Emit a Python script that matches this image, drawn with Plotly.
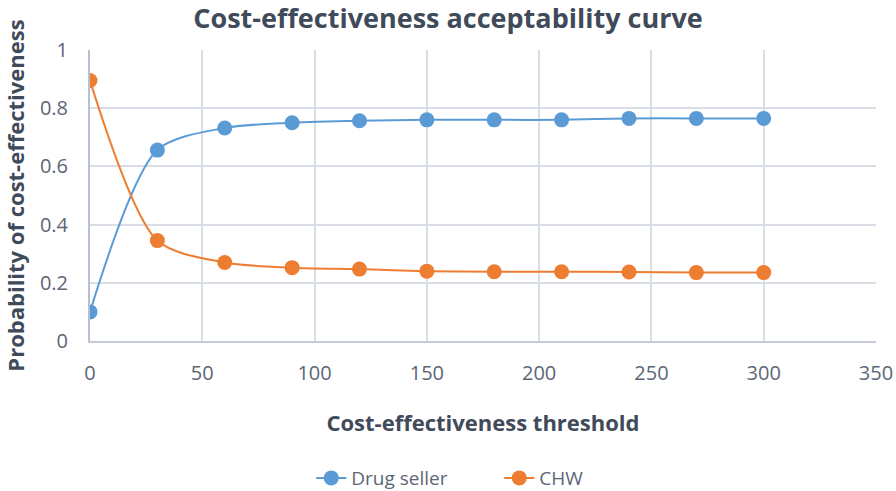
import plotly.graph_objects as go

thresholds = [0, 30, 60, 90, 120, 150, 180, 210, 240, 270, 300]
drug_seller = [0.10, 0.656, 0.732, 0.750, 0.757, 0.760, 0.760, 0.760, 0.765, 0.765, 0.765]
chw = [0.895, 0.345, 0.270, 0.252, 0.247, 0.240, 0.238, 0.238, 0.237, 0.235, 0.235]

x_ticks = [0, 50, 100, 150, 200, 250, 300, 350]
y_ticks = [0, 0.2, 0.4, 0.6, 0.8, 1]
y_tick_text = ["0", "0.2", "0.4", "0.6", "0.8", "1"]

FONT = "'Open Sans', sans-serif"
TICK_COLOR = "#5c6676"
TITLE_COLOR = "#3f4a5a"
GRID = "#d9dde6"

fig = go.Figure()
fig.add_trace(go.Scatter(
    x=thresholds, y=drug_seller, name="Drug seller",
    mode="lines+markers", line=dict(color="#5b9bd5", width=2, shape="spline", smoothing=0.8),
    marker=dict(size=15, color="#5b9bd5"),
))
fig.add_trace(go.Scatter(
    x=thresholds, y=chw, name="CHW",
    mode="lines+markers", line=dict(color="#ed7d31", width=2, shape="spline", smoothing=0.8),
    marker=dict(size=15, color="#ed7d31"),
))

fig.update_layout(
    width=896, height=491,
    paper_bgcolor="white", plot_bgcolor="white",
    margin=dict(l=90, r=20, t=50, b=150, autoexpand=False),
    title=dict(text="<b>Cost-effectiveness acceptability curve</b>", x=0.5, xanchor="center",
               y=0.963, yanchor="middle",
               font=dict(family=FONT, size=27, color=TITLE_COLOR)),
    font=dict(family=FONT, color=TICK_COLOR),
    showlegend=True,
    legend=dict(orientation="h", x=0.2815, xanchor="left", y=-0.471, yanchor="middle",
                entrywidth=143, entrywidthmode="pixels",
                font=dict(family=FONT, size=19, color=TICK_COLOR)),
)
fig.update_xaxes(
    range=[0, 350], tickvals=x_ticks, showgrid=True, gridcolor=GRID, gridwidth=1.5,
    zeroline=False, showline=True, linecolor="#c4cad6", linewidth=2, automargin=False,
    tickfont=dict(size=20, color=TICK_COLOR), ticks="", ticklabelstandoff=13,
    title=dict(text="<b>Cost-effectiveness threshold</b>", font=dict(size=22, color=TITLE_COLOR), standoff=31),
)
fig.update_yaxes(
    range=[0, 1], tickvals=y_ticks, ticktext=y_tick_text, showgrid=True, gridcolor=GRID, gridwidth=1.5,
    zeroline=False, showline=True, linecolor="#b7c0d0", linewidth=2, automargin=False,
    tickfont=dict(size=20, color=TICK_COLOR), ticks="", ticklabelstandoff=16,
    title=dict(text="<b>Probability of cost-effectiveness</b>", font=dict(size=22, color=TITLE_COLOR), standoff=12),
)

fig.write_html("out.html", config={"displayModeBar": False},
               post_script="document.body.style.margin='0';")
